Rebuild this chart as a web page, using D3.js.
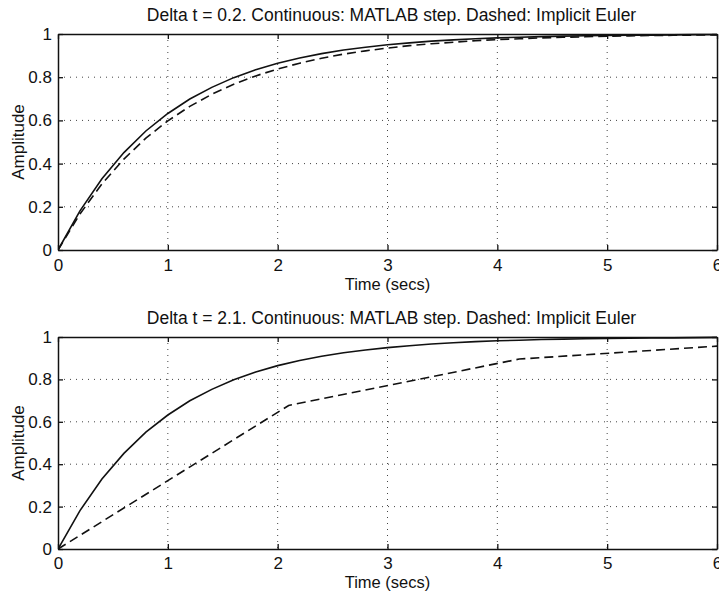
<!DOCTYPE html>
<html>
<head>
<meta charset="utf-8">
<script src="https://cdn.jsdelivr.net/npm/d3@7"></script>
<style>
  body { margin: 0; background: #fff; }
  svg text { font-family: "Liberation Sans", Arial, sans-serif; fill: #111; }
</style>
</head>
<body>
<div id="chart"></div>
<script>
// time samples, 0.2 s apart
const timeFine = [0, 0.2, 0.4, 0.6, 0.8, 1.0, 1.2, 1.4, 1.6, 1.8, 2.0, 2.2, 2.4, 2.6, 2.8, 3.0,
    3.2, 3.4, 3.6, 3.8, 4.0, 4.2, 4.4, 4.6, 4.8, 5.0, 5.2, 5.4, 5.6, 5.8, 6.0];
// continuous step response (solid)
const stepValues = [0, 0.181, 0.330, 0.451, 0.551, 0.632, 0.699, 0.753, 0.798, 0.835, 0.865,
    0.889, 0.909, 0.926, 0.939, 0.950, 0.959, 0.967, 0.973, 0.978, 0.982, 0.985, 0.988,
    0.990, 0.992, 0.993, 0.994, 0.995, 0.996, 0.997, 0.998];
// implicit euler, dt = 0.2 (dashed, top)
const eulerFine = [0, 0.167, 0.306, 0.421, 0.518, 0.598, 0.665, 0.721, 0.767, 0.806, 0.838,
    0.865, 0.888, 0.907, 0.922, 0.935, 0.946, 0.955, 0.962, 0.969, 0.974, 0.978, 0.982,
    0.985, 0.987, 0.990, 0.991, 0.993, 0.994, 0.995, 0.996];
// implicit euler, dt = 2.1 (dashed, bottom)
const timeCoarse = [0, 2.1, 4.2, 6.3];
const eulerCoarse = [0, 0.677, 0.896, 0.967];

const xTicks = [0, 1, 2, 3, 4, 5, 6];
const xTickLabels = ["0", "1", "2", "3", "4", "5", "6"];
const yTicks = [0, 0.2, 0.4, 0.6, 0.8, 1];
const yTickLabels = ["0", "0.2", "0.4", "0.6", "0.8", "1"];

const titles = [
    "Delta t = 0.2. Continuous: MATLAB step. Dashed: Implicit Euler",
    "Delta t = 2.1. Continuous: MATLAB step. Dashed: Implicit Euler"
];

const width = 719;
const height = 594;

const svg = d3.select("#chart")
    .append("svg")
    .attr("width", width)
    .attr("height", height);

function drawPanel(idx, top, bottom, dashT, dashY, xpad, xlabelGap) {
    const left = 58, right = 717;
    const x = d3.scaleLinear().domain([0, 6]).range([left, right]);
    const y = d3.scaleLinear().domain([0, 1]).range([bottom, top]);

    const g = svg.append("g");

    g.append("clipPath").attr("id", "clip" + idx)
        .append("rect")
        .attr("x", left).attr("y", top - 2)
        .attr("width", right - left).attr("height", bottom - top + 4);

    // dotted grid
    g.selectAll(".vgrid")
        .data(xTicks.slice(1, -1))
        .enter()
        .append("line")
        .attr("x1", d => x(d)).attr("x2", d => x(d))
        .attr("y1", top).attr("y2", bottom)
        .attr("stroke", "#444")
        .attr("stroke-width", 1)
        .attr("stroke-dasharray", "1,5");

    g.selectAll(".hgrid")
        .data(yTicks.slice(1, -1))
        .enter()
        .append("line")
        .attr("x1", left).attr("x2", right)
        .attr("y1", d => y(d)).attr("y2", d => y(d))
        .attr("stroke", "#444")
        .attr("stroke-width", 1)
        .attr("stroke-dasharray", "1,5");

    const line = d3.line().x(d => x(d[0])).y(d => y(d[1]));

    g.append("path")
        .datum(d3.zip(timeFine, stepValues))
        .attr("d", line)
        .attr("fill", "none")
        .attr("stroke", "#111")
        .attr("stroke-width", 1.6)
        .attr("clip-path", "url(#clip" + idx + ")");

    g.append("path")
        .datum(d3.zip(dashT, dashY))
        .attr("d", line)
        .attr("fill", "none")
        .attr("stroke", "#111")
        .attr("stroke-width", 1.6)
        .attr("stroke-dasharray", "9,5")
        .attr("clip-path", "url(#clip" + idx + ")");

    // axes, ticks pointing inward
    g.append("g")
        .attr("transform", "translate(0," + bottom + ")")
        .call(d3.axisBottom(x).tickValues(xTicks).tickSize(-5).tickSizeOuter(0).tickPadding(xpad)
            .tickFormat((d, i) => xTickLabels[i]));
    g.append("g")
        .attr("transform", "translate(0," + top + ")")
        .call(d3.axisTop(x).tickValues(xTicks).tickSize(-5).tickSizeOuter(0).tickFormat(""));
    g.append("g")
        .attr("transform", "translate(" + left + ",0)")
        .call(d3.axisLeft(y).tickValues(yTicks).tickSize(-5).tickSizeOuter(0).tickPadding(6)
            .tickFormat((d, i) => yTickLabels[i]));
    g.append("g")
        .attr("transform", "translate(" + right + ",0)")
        .call(d3.axisRight(y).tickValues(yTicks).tickSize(-5).tickSizeOuter(0).tickFormat(""));

    g.selectAll(".domain").attr("stroke", "#111").attr("stroke-width", 1.5);
    g.selectAll(".tick line").attr("stroke", "#111").attr("stroke-width", 1.3);
    g.selectAll(".tick text")
        .style("font-family", "'Liberation Sans', Arial, sans-serif")
        .style("font-size", "17px")
        .attr("fill", "#111");

    g.append("text")
        .attr("x", (left + right) / 2 + 4)
        .attr("y", top - 13)
        .attr("text-anchor", "middle")
        .style("font-size", "17.5px")
        .text(titles[idx]);

    g.append("text")
        .attr("x", (left + right) / 2)
        .attr("y", bottom + xlabelGap)
        .attr("text-anchor", "middle")
        .style("font-size", "16.5px")
        .text("Time (secs)");

    g.append("text")
        .attr("transform", "translate(24," + (top + bottom) / 2 + ") rotate(-90)")
        .attr("text-anchor", "middle")
        .style("font-size", "17px")
        .text("Amplitude");
}

drawPanel(0, 34, 250, timeFine, eulerFine, 9, 40);
drawPanel(1, 337, 549, timeCoarse, eulerCoarse, 8, 39);
</script>
</body>
</html>
